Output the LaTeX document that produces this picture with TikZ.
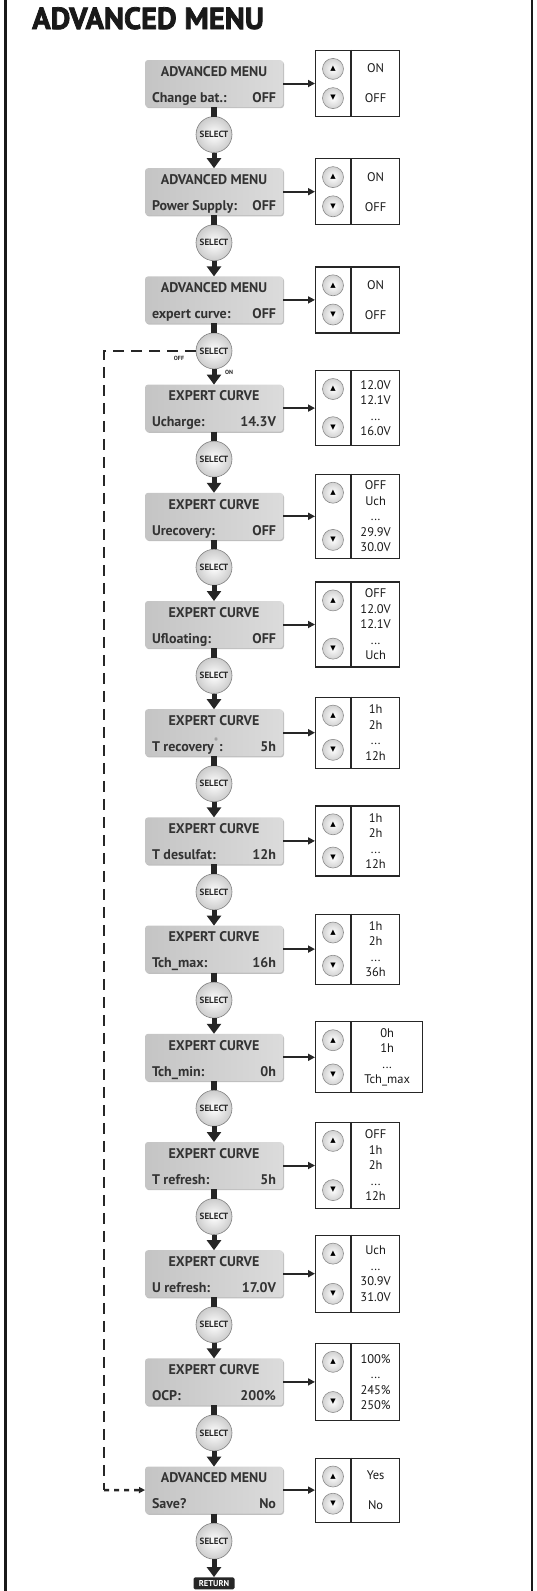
\documentclass[tikz,border=0pt]{standalone}
\usepackage{fontspec}
\setmainfont{PT Sans}
\newfontfamily\symfont{DejaVu Sans}
\newfontfamily\heavyfont{PT Sans}[BoldFeatures={FakeBold=2.5}]
\usetikzlibrary{positioning,arrows.meta,shadows}
\newcommand\lcd[3]{\parbox[c][47pt][c]{124pt}{\centering\rule{0pt}{14.6pt}#1\\[10.5pt]\makebox[124pt]{#2\hfill#3\rule[-3.2pt]{0pt}{3.2pt}}}}

\begin{document}
\begin{tikzpicture}[x=1pt,y=-1pt,
    lcd/.style={rounded corners=3pt, minimum width=138pt, minimum height=47pt, inner sep=0pt, outer sep=0pt,
      left color=black!23, right color=black!14, text=black!80,
      font=\fontsize{14}{15.5}\selectfont\bfseries,
      drop shadow={shadow xshift=1pt, shadow yshift=-1.2pt, opacity=.25, fill=black}},
    selbtn/.style={circle, draw=black!50, line width=.6pt, inner color=white, outer color=black!20,
      minimum size=36pt, inner sep=0pt, outer sep=0pt, text=black!85, font=\fontsize{9}{9}\selectfont\bfseries},
    arrbtn/.style={circle, draw=black!45, line width=.6pt, inner color=white, outer color=black!18,
      minimum size=21pt, inner sep=0pt, font=\symfont\fontsize{7}{7}\selectfont},
    valbox/.style={draw=black!85, line width=1.2pt, minimum width=84pt, inner sep=0pt},
    valtext/.style={align=center, text=black!90, font=\fontsize{12.5}{15.5}\selectfont},
    tablediv/.style={draw=black!85, line width=1.2pt},
    stem/.style={line width=5.5pt, black!85},
    selarrow/.style={line width=5pt, black!85, -{Triangle[width=14pt,length=10pt]}},
    harrow/.style={line width=2pt, black!85, -{Triangle[width=7pt,length=7pt]}},
    offline/.style={line width=2.5pt, black!85, dash pattern=on 11pt off 7pt},
    tinylbl/.style={font=\fontsize{6}{6}\selectfont\bfseries, text=black!85}]

  \useasboundingbox (0,0) rectangle (536,1591);
  \draw[line width=2.5pt, black!90] (5.5,-5) rectangle (532,1600);

  \node[anchor=base west, inner sep=0pt, text=black!90,
        font=\heavyfont\bfseries\fontsize{30.5}{32}\selectfont] (title) at (32,29) {ADVANCED MENU};

  %menu boxes%
  \node[lcd] (m0) at (214,83.5) {\lcd{ADVANCED MENU}{Change bat.:}{OFF}};
  \node[selbtn, below=9.5pt of m0] (s0) {SELECT};
  \node[lcd, below=15.7pt of s0] (m1) {\lcd{ADVANCED MENU}{Power Supply:}{OFF}};
  \node[selbtn, below=9.5pt of m1] (s1) {SELECT};
  \node[lcd, below=15.7pt of s1] (m2) {\lcd{ADVANCED MENU}{expert curve:}{OFF}};
  \node[selbtn, below=9.5pt of m2] (s2) {SELECT};
  \node[lcd, below=15.7pt of s2] (m3) {\lcd{EXPERT CURVE}{Ucharge:}{14.3V}};
  \node[selbtn, below=9.5pt of m3] (s3) {SELECT};
  \node[lcd, below=15.7pt of s3] (m4) {\lcd{EXPERT CURVE}{Urecovery:}{OFF}};
  \node[selbtn, below=9.5pt of m4] (s4) {SELECT};
  \node[lcd, below=15.7pt of s4] (m5) {\lcd{EXPERT CURVE}{Ufloating:}{OFF}};
  \node[selbtn, below=9.5pt of m5] (s5) {SELECT};
  \node[lcd, below=15.7pt of s5] (m6) {\lcd{EXPERT CURVE}{T recovery\textsuperscript{\textcolor{black!40}{\fontsize{12}{12}\selectfont *}}:}{5h}};
  \node[selbtn, below=9.5pt of m6] (s6) {SELECT};
  \node[lcd, below=15.7pt of s6] (m7) {\lcd{EXPERT CURVE}{T desulfat:}{12h}};
  \node[selbtn, below=9.5pt of m7] (s7) {SELECT};
  \node[lcd, below=15.7pt of s7] (m8) {\lcd{EXPERT CURVE}{Tch\_max:}{16h}};
  \node[selbtn, below=9.5pt of m8] (s8) {SELECT};
  \node[lcd, below=15.7pt of s8] (m9) {\lcd{EXPERT CURVE}{Tch\_min:}{0h}};
  \node[selbtn, below=9.5pt of m9] (s9) {SELECT};
  \node[lcd, below=15.7pt of s9] (m10) {\lcd{EXPERT CURVE}{T refresh:}{5h}};
  \node[selbtn, below=9.5pt of m10] (s10) {SELECT};
  \node[lcd, below=15.7pt of s10] (m11) {\lcd{EXPERT CURVE}{U refresh:}{17.0V}};
  \node[selbtn, below=9.5pt of m11] (s11) {SELECT};
  \node[lcd, below=15.7pt of s11] (m12) {\lcd{EXPERT CURVE}{OCP:}{200\%}};
  \node[selbtn, below=9.5pt of m12] (s12) {SELECT};
  \node[lcd, below=15.7pt of s12] (m13) {\lcd{ADVANCED MENU}{Save?}{No}};
  \node[selbtn, below=9.5pt of m13] (s13) {SELECT};
  \node[fill=black!85, text=white, rounded corners=1.5pt, inner sep=0pt, minimum width=41pt,
        minimum height=12pt, font=\fontsize{8.5}{9}\selectfont\bfseries, below=18pt of s13] (ret) {RETURN};

  %value tables%
  \node[valbox, minimum height=66pt, right=32pt of m0] (t0) {};
  \node[valtext] at ([xshift=18pt]t0.center) {ON\\[14.5pt]OFF};
  \node[valbox, minimum height=66pt, right=32pt of m1] (t1) {};
  \node[valtext] at ([xshift=18pt]t1.center) {ON\\[14.5pt]OFF};
  \node[valbox, minimum height=66pt, right=32pt of m2] (t2) {};
  \node[valtext] at ([xshift=18pt]t2.center) {ON\\[14.5pt]OFF};
  \node[valbox, minimum height=75pt, right=32pt of m3] (t3) {};
  \node[valtext] at ([xshift=18pt]t3.center) {12.0V\\12.1V\\...\\16.0V};
  \node[valbox, minimum height=84pt, right=32pt of m4] (t4) {};
  \node[valtext] at ([xshift=18pt]t4.center) {OFF\\Uch\\...\\29.9V\\30.0V};
  \node[valbox, minimum height=85pt, right=32pt of m5] (t5) {};
  \node[valtext] at ([xshift=18pt]t5.center) {OFF\\12.0V\\12.1V\\...\\Uch};
  \node[valbox, minimum height=71pt, right=32pt of m6] (t6) {};
  \node[valtext] at ([xshift=18pt]t6.center) {1h\\2h\\...\\12h};
  \node[valbox, minimum height=70pt, right=32pt of m7] (t7) {};
  \node[valtext] at ([xshift=18pt]t7.center) {1h\\2h\\...\\12h};
  \node[valbox, minimum height=70pt, right=32pt of m8] (t8) {};
  \node[valtext] at ([xshift=18pt]t8.center) {1h\\2h\\...\\36h};
  \node[valbox, minimum width=107pt, minimum height=71pt, right=32pt of m9] (t9) {};
  \node[valtext] at ([xshift=18pt]t9.center) {0h\\1h\\...\\Tch\_max};
  \node[valbox, minimum height=86pt, right=32pt of m10] (t10) {};
  \node[valtext] at ([xshift=18pt]t10.center) {OFF\\1h\\2h\\...\\12h};
  \node[valbox, minimum height=77pt, right=32pt of m11] (t11) {};
  \node[valtext] at ([xshift=18pt]t11.center) {Uch\\...\\30.9V\\31.0V};
  \node[valbox, minimum height=77pt, right=32pt of m12] (t12) {};
  \node[valtext] at ([xshift=18pt]t12.center) {100\%\\...\\245\%\\250\%};
  \node[valbox, minimum height=64pt, right=32pt of m13] (t13) {};
  \node[valtext] at ([xshift=18pt]t13.center) {Yes\\[14.5pt]No};

  \foreach \k in {0,...,13} {
    \draw[tablediv] ([xshift=36pt]t\k.north west) -- ([xshift=36pt]t\k.south west);
    \node[arrbtn] at ([xshift=18pt,yshift=-19pt]t\k.north west) {▲};
    \node[arrbtn] at ([xshift=18pt,yshift=19pt]t\k.south west) {▼};
    \draw[harrow] (m\k) -- (t\k);
    \draw[stem] (m\k) -- (s\k);
  }
  \foreach \k [count=\n] in {0,...,12}
    \draw[selarrow] (s\k) -- (m\n);
  \draw[selarrow] (s13) -- (ret);

  %off branch%
  \coordinate (bend) at (104,1490);
  \draw[offline] (s2.west) -| (bend);
  \draw[offline, dash pattern=on 5pt off 5pt, -{Triangle[width=6pt,length=6pt]}] (bend) -- (m13);
  \node[tinylbl] at ([xshift=-35pt,yshift=-7pt]s2.center) {OFF};
  \node[tinylbl] at ([xshift=15pt,yshift=-21pt]s2.center) {ON};
\end{tikzpicture}
\end{document}
